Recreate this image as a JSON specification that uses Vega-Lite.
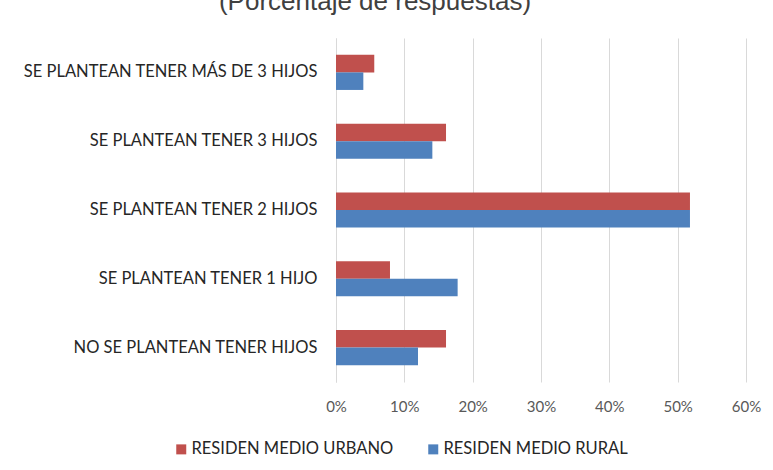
{
  "$schema": "https://vega.github.io/schema/vega-lite/v6.json",
  "width": 410,
  "height": 344,
  "autosize": {"type": "none"},
  "padding": {"left": 336, "top": 38, "right": 27, "bottom": 88},
  "background": "white",
  "title": {
    "text": "(Porcentaje de respuestas)",
    "fontSize": 26,
    "font": "Liberation Sans",
    "fontWeight": "normal",
    "color": "#404040",
    "anchor": "middle",
    "dx": -166,
    "baseline": "alphabetic",
    "offset": 2
  },
  "data": {
    "values": [
      {"categoria": "SE PLANTEAN TENER MÁS DE 3 HIJOS", "zona": "RESIDEN MEDIO URBANO", "porcentaje": 0.056},
      {"categoria": "SE PLANTEAN TENER MÁS DE 3 HIJOS", "zona": "RESIDEN MEDIO RURAL", "porcentaje": 0.040},
      {"categoria": "SE PLANTEAN TENER 3 HIJOS", "zona": "RESIDEN MEDIO URBANO", "porcentaje": 0.161},
      {"categoria": "SE PLANTEAN TENER 3 HIJOS", "zona": "RESIDEN MEDIO RURAL", "porcentaje": 0.141},
      {"categoria": "SE PLANTEAN TENER 2 HIJOS", "zona": "RESIDEN MEDIO URBANO", "porcentaje": 0.518},
      {"categoria": "SE PLANTEAN TENER 2 HIJOS", "zona": "RESIDEN MEDIO RURAL", "porcentaje": 0.518},
      {"categoria": "SE PLANTEAN TENER 1 HIJO", "zona": "RESIDEN MEDIO URBANO", "porcentaje": 0.079},
      {"categoria": "SE PLANTEAN TENER 1 HIJO", "zona": "RESIDEN MEDIO RURAL", "porcentaje": 0.178},
      {"categoria": "NO SE PLANTEAN TENER HIJOS", "zona": "RESIDEN MEDIO URBANO", "porcentaje": 0.161},
      {"categoria": "NO SE PLANTEAN TENER HIJOS", "zona": "RESIDEN MEDIO RURAL", "porcentaje": 0.120}
    ]
  },
  "mark": {"type": "bar"},
  "encoding": {
    "y": {
      "field": "categoria",
      "type": "nominal",
      "sort": ["SE PLANTEAN TENER MÁS DE 3 HIJOS", "SE PLANTEAN TENER 3 HIJOS", "SE PLANTEAN TENER 2 HIJOS", "SE PLANTEAN TENER 1 HIJO", "NO SE PLANTEAN TENER HIJOS"],
      "scale": {"paddingInner": 0.49, "paddingOuter": 0.245},
      "axis": {
        "title": null,
        "ticks": false,
        "labelPadding": 19,
        "labelFont": "Lato",
        "labelFontSize": 16.5,
        "labelColor": "#262626",
        "domainColor": "#D9D9D9",
        "labelLimit": 400
      }
    },
    "x": {
      "field": "porcentaje",
      "type": "quantitative",
      "scale": {"domain": [0, 0.6]},
      "axis": {
        "title": null,
        "format": ".0%",
        "values": [0, 0.1, 0.2, 0.3, 0.4, 0.5, 0.6],
        "grid": true,
        "gridColor": "#D9D9D9",
        "domain": false,
        "ticks": false,
        "labelFlush": false,
        "labelPadding": 17,
        "labelFont": "Lato",
        "labelFontSize": 15,
        "labelColor": "#595959"
      }
    },
    "yOffset": {"field": "zona", "sort": ["RESIDEN MEDIO URBANO", "RESIDEN MEDIO RURAL"]},
    "color": {
      "field": "zona",
      "type": "nominal",
      "scale": {"domain": ["RESIDEN MEDIO URBANO", "RESIDEN MEDIO RURAL"], "range": ["#C0504D", "#4F81BD"]},
      "legend": {
        "title": null,
        "orient": "none",
        "legendX": -163,
        "legendY": 403,
        "direction": "horizontal",
        "symbolType": "square",
        "symbolSize": 100,
        "symbolStrokeWidth": 0,
        "labelFont": "Lato",
        "labelFontSize": 16.5,
        "labelColor": "#262626",
        "labelOffset": 2,
        "columnPadding": 31,
        "labelLimit": 400
      }
    }
  },
  "config": {"view": {"stroke": null}}
}
